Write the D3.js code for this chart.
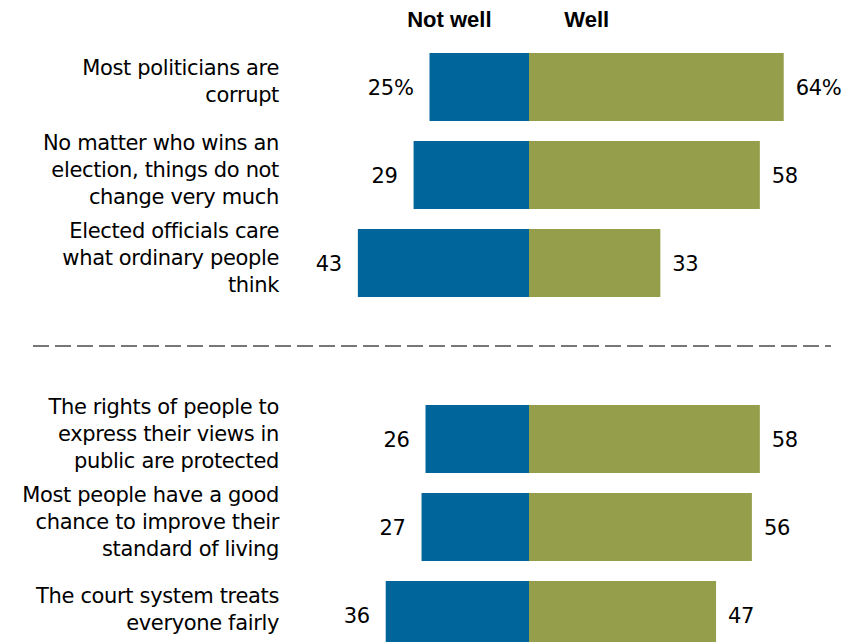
<!DOCTYPE html>
<html>
<head>
<meta charset="utf-8">
<script src="https://cdn.jsdelivr.net/npm/d3@7"></script>
<style>
  html, body { margin: 0; padding: 0; background: #fff; }
  svg { display: block; }
</style>
</head>
<body>
<svg id="chart" width="847" height="642"></svg>
<script>
// ---- data ----
const categories = [
  "Most politicians are corrupt",
  "No matter who wins an election, things do not change very much",
  "Elected officials care what ordinary people think",
  "The rights of people to express their views in public are protected",
  "Most people have a good chance to improve their standard of living",
  "The court system treats everyone fairly"
];
const categoryLines = [
  ["Most politicians are", "corrupt"],
  ["No matter who wins an", "election, things do not", "change very much"],
  ["Elected officials care", "what ordinary people", "think"],
  ["The rights of people to", "express their views in", "public are protected"],
  ["Most people have a good", "chance to improve their", "standard of living"],
  ["The court system treats", "everyone fairly"]
];
const notWell = [25, 29, 43, 26, 27, 36];
const well    = [64, 58, 33, 58, 56, 47];
const seriesNames = ["Not well", "Well"];

// ---- layout ----
const svg = d3.select("#chart");
const bodyFont = "DejaVu Sans, sans-serif";
const headFont = "Liberation Sans, Arial, sans-serif";
const blue = "#00659a";
const green = "#949e4b";
const fs = 21;
const ls = "-0.35px";

const x = d3.scaleLinear().domain([-100, 100]).range([529 - 398, 529 + 398]);

// slots: three rows, a gap slot, three rows
const slotIds = categories.map((c, i) => "r" + i);
const slots = [...slotIds.slice(0, 3), "gap", ...slotIds.slice(3)];
const y = d3.scaleBand().domain(slots).range([43, 43 + 88 * 7])
  .paddingInner(20 / 88).paddingOuter(10 / 88);

const rows = categories.map((c, i) => ({
  id: slotIds[i], cat: c, lines: categoryLines[i],
  nw: notWell[i], w: well[i], first: i === 0
}));

const g = svg.append("g");

// bars
g.selectAll("rect.nw").data(rows).join("rect")
  .attr("class", "nw")
  .attr("x", d => x(-d.nw)).attr("width", d => x(0) - x(-d.nw))
  .attr("y", d => y(d.id)).attr("height", y.bandwidth())
  .attr("fill", blue);

g.selectAll("rect.w").data(rows).join("rect")
  .attr("class", "w")
  .attr("x", x(0)).attr("width", d => x(d.w) - x(0))
  .attr("y", d => y(d.id)).attr("height", y.bandwidth())
  .attr("fill", green);

// value labels
g.selectAll("text.vnw").data(rows).join("text")
  .attr("class", "vnw")
  .attr("x", d => x(-d.nw) - 16)
  .attr("y", d => y(d.id) + y.bandwidth() / 2)
  .attr("dy", "0.36em")
  .attr("text-anchor", "end")
  .attr("font-family", bodyFont).attr("font-size", fs).attr("letter-spacing", ls)
  .attr("fill", "#000")
  .text(d => d.nw + (d.first ? "%" : ""));

g.selectAll("text.vw").data(rows).join("text")
  .attr("class", "vw")
  .attr("x", d => x(d.w) + 12)
  .attr("y", d => y(d.id) + y.bandwidth() / 2)
  .attr("dy", "0.36em")
  .attr("text-anchor", "start")
  .attr("font-family", bodyFont).attr("font-size", fs).attr("letter-spacing", ls)
  .attr("fill", "#000")
  .text(d => d.w + (d.first ? "%" : ""));

// category labels
const lineH = 27;
const lab = g.selectAll("text.cat").data(rows).join("text")
  .attr("class", "cat")
  .attr("text-anchor", "end")
  .attr("font-family", bodyFont).attr("font-size", fs).attr("letter-spacing", ls)
  .attr("fill", "#000");
lab.each(function(d) {
  const n = d.lines.length;
  const cy = y(d.id) + y.bandwidth() / 2 - 6;
  d3.select(this).selectAll("tspan").data(d.lines).join("tspan")
    .attr("x", 279)
    .attr("y", (l, j) => cy + (j - (n - 1) / 2) * lineH)
    .attr("dy", "0.36em")
    .text(l => l);
});

// headers
svg.selectAll("text.head").data(seriesNames).join("text")
  .attr("class", "head")
  .attr("x", (d, i) => i === 0 ? x(-20) : x(14.5))
  .attr("y", 27)
  .attr("text-anchor", "middle")
  .attr("font-family", headFont).attr("font-weight", "bold").attr("font-size", 22)
  .attr("fill", "#000")
  .text(d => d);

// dashed divider
const gy = y("gap") + y.bandwidth() / 2 - 5;
svg.append("line")
  .attr("x1", 33).attr("x2", 831)
  .attr("y1", gy).attr("y2", gy)
  .attr("stroke", "#777").attr("stroke-width", 2)
  .attr("stroke-dasharray", "16,6");
</script>
</body>
</html>
